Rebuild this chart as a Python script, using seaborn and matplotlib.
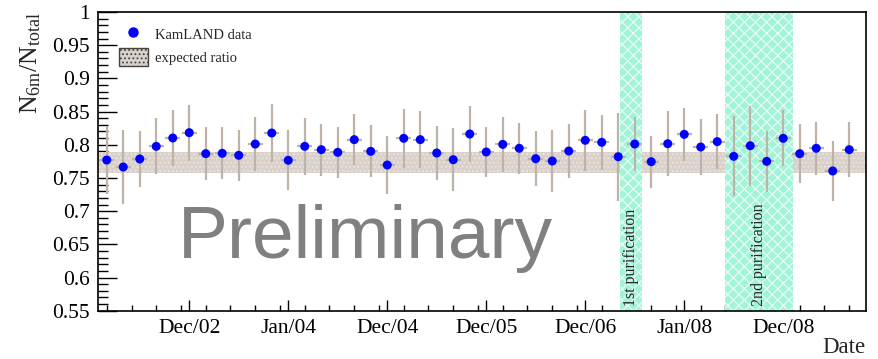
import numpy as np
import pandas as pd
import matplotlib
matplotlib.use("Agg")
import matplotlib.pyplot as plt
import seaborn as sns
from matplotlib.lines import Line2D
from matplotlib.patches import Patch
from matplotlib.ticker import MultipleLocator, FixedLocator

# ---------------- data ----------------
ratio = [0.777, 0.7665, 0.7786, 0.7976, 0.8102, 0.8182, 0.7866, 0.7871, 0.7841, 0.8011,
         0.8177, 0.7766, 0.7976, 0.7926, 0.7886, 0.8077, 0.7901, 0.7695,
         0.8097, 0.8077, 0.7876, 0.7775, 0.8162, 0.7891, 0.8006, 0.7947, 0.779, 0.7755,
         0.7906, 0.8067, 0.8037, 0.782, 0.8011, 0.7745, 0.8016, 0.8157, 0.7966, 0.8047,
         0.7826, 0.7986, 0.775, 0.8097, 0.7866, 0.7947, 0.7605, 0.7926]
ratio_err = [0.051, 0.056, 0.042, 0.042, 0.042, 0.042, 0.040, 0.039, 0.038, 0.041,
             0.044, 0.045, 0.043, 0.039, 0.038, 0.038, 0.039, 0.044,
             0.044, 0.043, 0.041, 0.047, 0.042, 0.038, 0.041, 0.038, 0.041, 0.046,
             0.041, 0.046, 0.041, 0.066, 0.041, 0.039, 0.049, 0.040, 0.042, 0.041,
             0.060, 0.060, 0.046, 0.042, 0.044, 0.040, 0.045, 0.041]
bin_index = list(range(len(ratio)))

tick_labels = ["Dec/02", "Jan/04", "Dec/04", "Dec/05", "Dec/06", "Jan/08", "Dec/08"]
tick_bins = [5, 11, 17, 23, 29, 35, 41]

expected_low, expected_high = 0.757, 0.789
purification_1 = (31.12, 32.43)
purification_2 = (37.48, 41.59)

df = pd.DataFrame({"bin": bin_index, "ratio": ratio, "err": ratio_err})

# ---------------- style ----------------
sns.set_theme(style="white")
plt.rcParams["font.family"] = ["Liberation Serif", "DejaVu Serif"]
plt.rcParams["mathtext.fontset"] = "custom"
plt.rcParams["mathtext.rm"] = "Liberation Serif"
plt.rcParams["mathtext.it"] = "Liberation Serif:italic"
plt.rcParams["hatch.linewidth"] = 0.8

fig = plt.figure(figsize=(8.79, 3.59), dpi=100)
ax = fig.add_axes([0.1115, 0.1345, 0.8734, 0.8321])

# expected ratio band
ax.axhspan(expected_low, expected_high, facecolor="#d9d1ca", edgecolor="#ece7e2",
           hatch="....", lw=0, zorder=1)

# purification periods
for (a, b) in (purification_1, purification_2):
    ax.axvspan(a, b, facecolor="#a2f4d8", edgecolor="#effdf8", hatch="xxx", lw=0, zorder=1.5)

# error bars
ax.errorbar(df["bin"], df["ratio"], yerr=df["err"], xerr=0.45, fmt="none",
            ecolor="#bdb3a9", elinewidth=1.6, capsize=0, zorder=2)
sns.scatterplot(data=df, x="bin", y="ratio", ax=ax, color="#0000ff", s=42,
                edgecolor="none", zorder=3, legend=False)

ax.set_xlim(-0.53, 46.0)
ax.set_ylim(0.55, 1.0)

# ticks
ax.xaxis.set_major_locator(FixedLocator(tick_bins))
ax.set_xticklabels(tick_labels)
ax.xaxis.set_minor_locator(MultipleLocator(1.5))
ax.yaxis.set_minor_locator(MultipleLocator(0.01))
ax.set_yticks(np.arange(0.55, 1.0001, 0.05))
ax.set_yticklabels(["0.55", "0.6", "0.65", "0.7", "0.75", "0.8", "0.85", "0.9", "0.95", "1"])
ax.tick_params(axis="both", which="both", direction="in", colors="black",
               bottom=True, left=True, top=False, right=False)
ax.tick_params(axis="y", which="major", length=14, width=1.0, labelsize=15.5, pad=6)
ax.tick_params(axis="y", which="minor", length=7, width=1.0)
ax.tick_params(axis="x", which="major", length=8, width=1.0, labelsize=15.5, pad=6)
ax.tick_params(axis="x", which="minor", length=4.5, width=1.0)
for s in ax.spines.values():
    s.set_color("black")
    s.set_linewidth(1.2)

ax.set_xlabel("")
ax.set_ylabel(r"$\mathrm{N_{6m}/N_{total}}$", fontsize=18.5, ha="right")
ax.yaxis.set_label_coords(-0.072, 1.0)
fig.text(0.984, 0.016, "Date", ha="right", va="baseline", fontsize=16.5)

# annotations
ax.text(0.104, 0.176, "Preliminary", transform=ax.transAxes, fontsize=54,
        color="#808080", family=["Liberation Sans", "DejaVu Sans"], va="baseline", zorder=4)
ax.text(sum(purification_1) / 2, 0.557, "1st purification", rotation=90, ha="center",
        va="bottom", fontsize=11.5, zorder=4)
ax.text(sum(purification_2) / 2, 0.557, "2nd purification", rotation=90, ha="center",
        va="bottom", fontsize=11.5, zorder=4)

# legend
handles = [Line2D([], [], marker="o", ls="none", color="#0000ff", markersize=6.5),
           Patch(facecolor="#d9d1ca", edgecolor="#444444", hatch="....", lw=1.0)]
leg = ax.legend(handles, ["KamLAND data", "expected ratio"], loc="upper left",
                bbox_to_anchor=(0.01, 1.0), frameon=False, fontsize=10.5,
                handlelength=2.0, handleheight=1.5, labelspacing=0.35, handletextpad=0.45)

fig.savefig("out.png", dpi=100)
